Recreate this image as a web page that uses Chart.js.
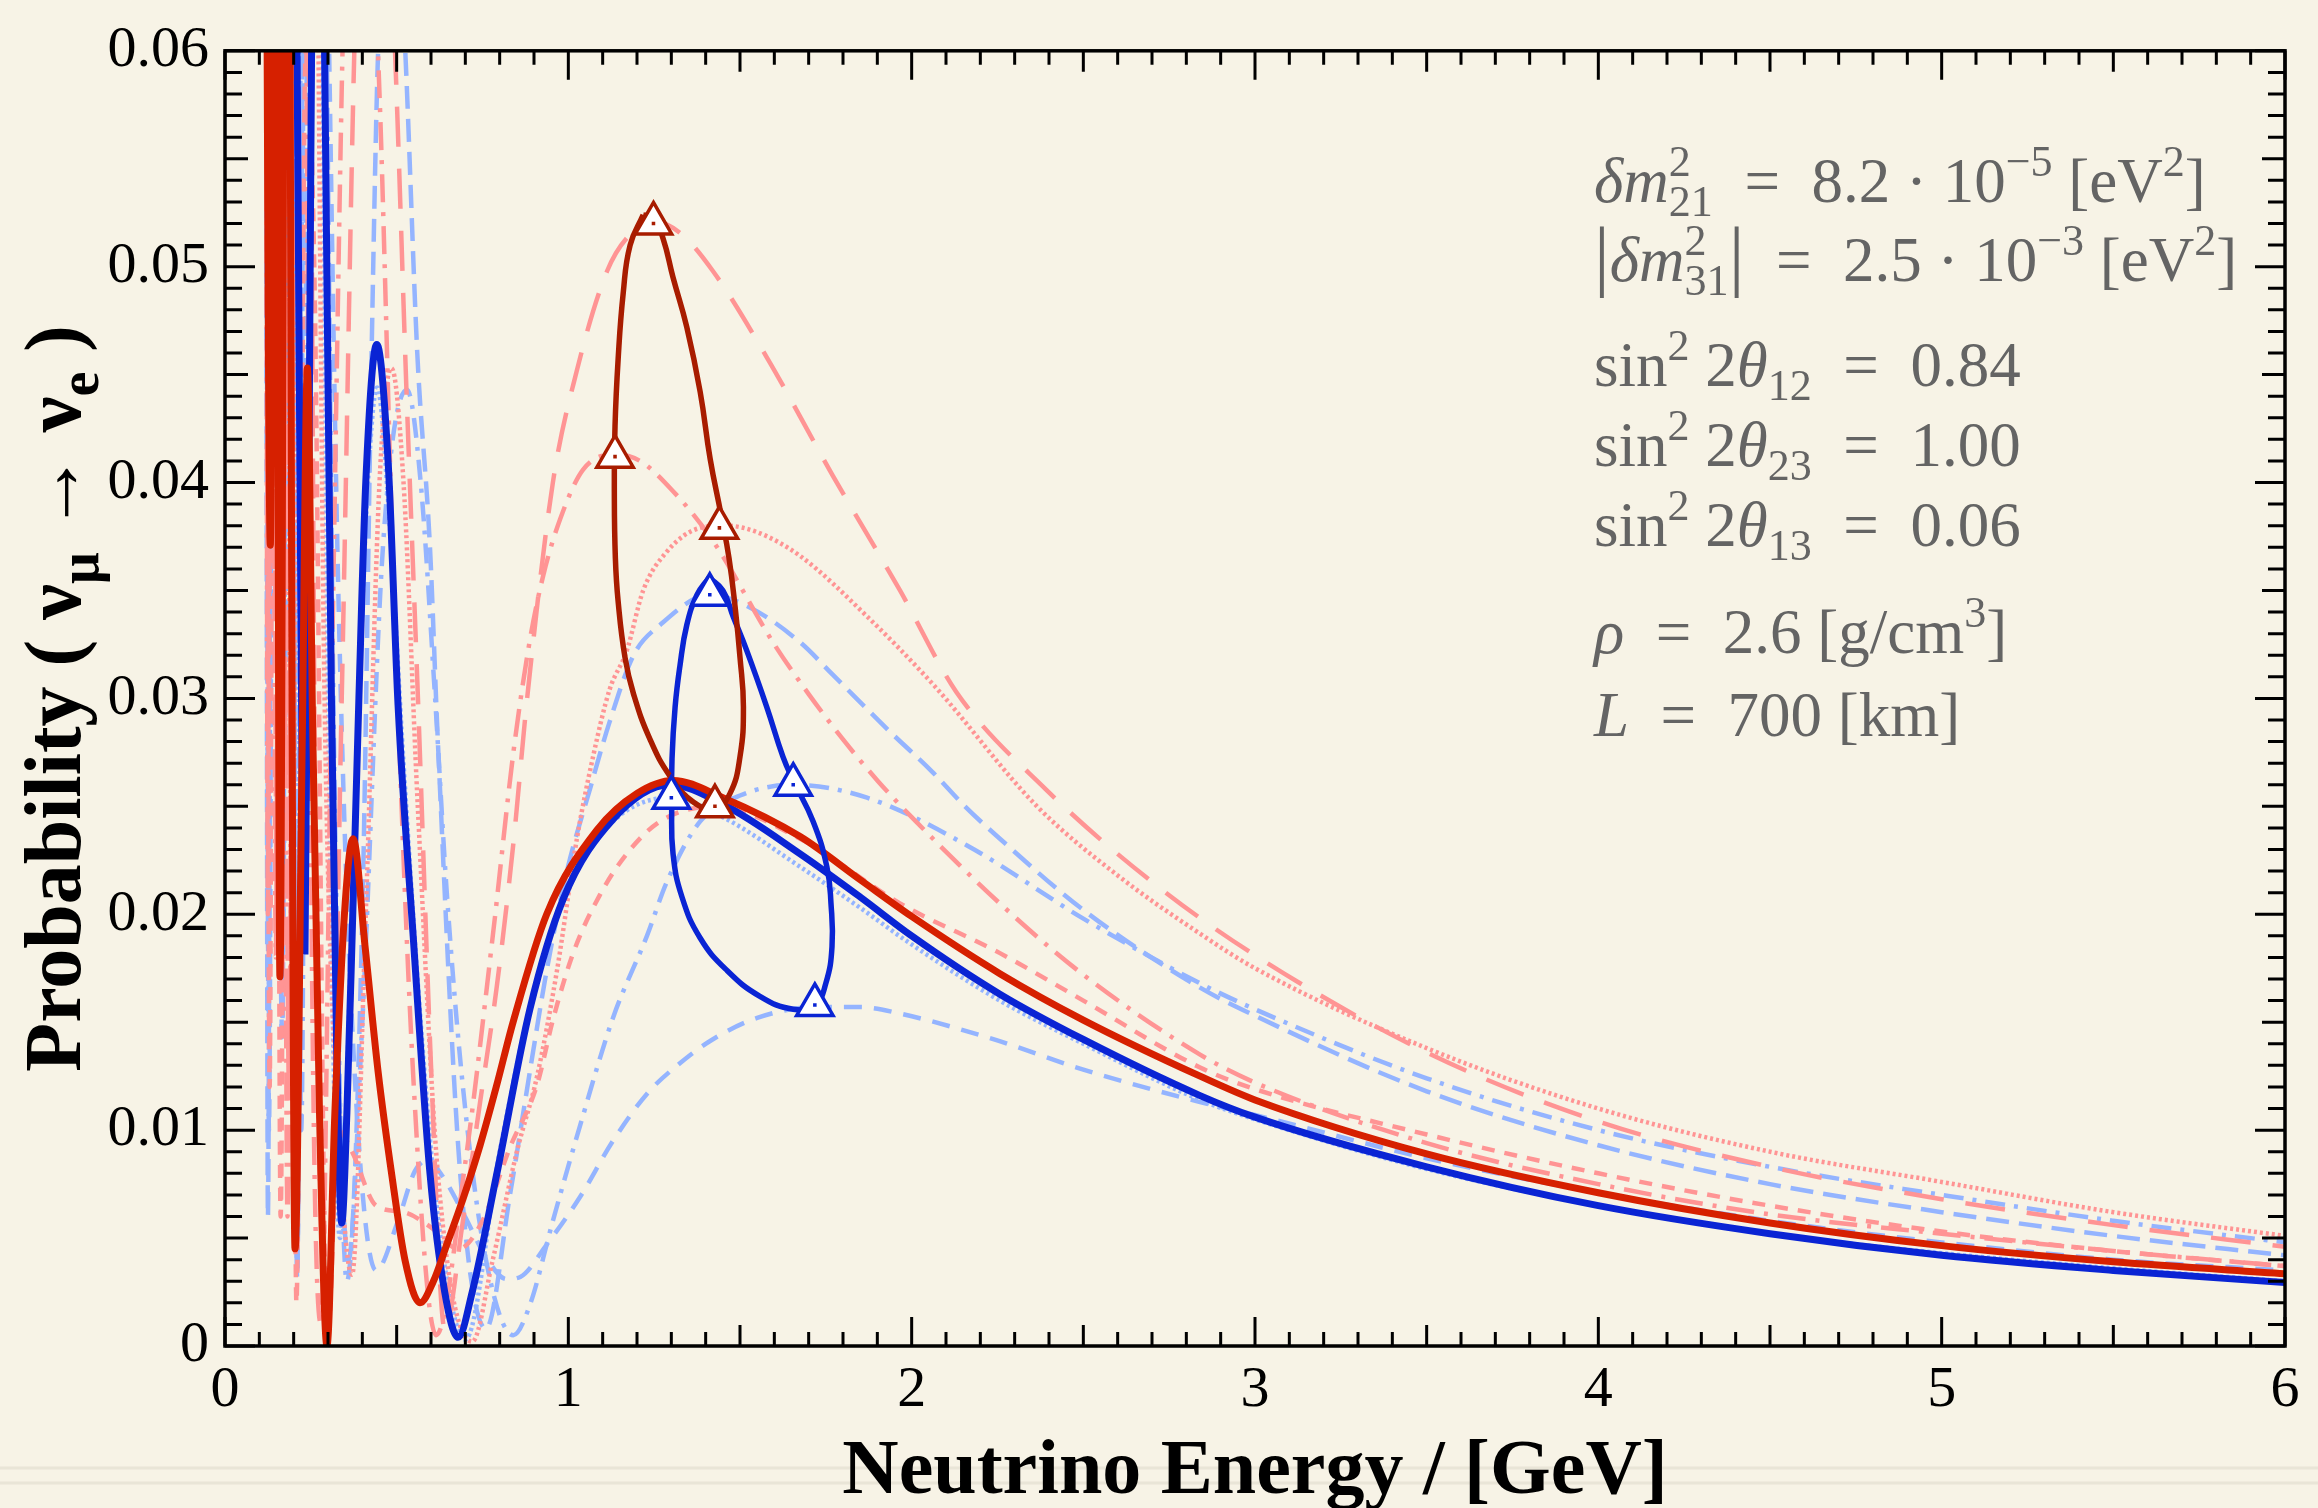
<!DOCTYPE html>
<html lang="en">
<head>
<meta charset="UTF-8">
<title>Appearance probability vs neutrino energy</title>
<script src="https://cdn.jsdelivr.net/npm/chart.js"></script>
<style>
  html, body { margin: 0; padding: 0; background: #f7f3e6; }
  canvas { display: block; }
</style>
</head>
<body>
<canvas id="probChart" width="2318" height="1508"></canvas>
<script>
// axis ticks
const energyTicks = [0, 1, 2, 3, 4, 5, 6];
const probTicks = [0, 0.01, 0.02, 0.03, 0.04, 0.05, 0.06];

// solid curves
const redSolidE = [0.115, 0.132, 0.146, 0.160, 0.180, 0.204, 0.225, 0.240, 0.255, 0.275, 0.297, 0.320, 0.350, 0.373, 0.408, 0.446, 0.486, 0.524, 0.568, 0.607, 0.646, 0.693, 0.743, 0.790, 0.839, 0.937, 1.083, 1.200, 1.305, 1.450, 1.675, 1.850, 2.000, 2.257, 2.500, 2.840, 3.000, 3.500, 4.000, 4.500, 5.000, 5.500, 6.000];
const redSolidP = [0.090, 0.0371, 0.090, 0.0171, 0.090, 0.0045, 0.028, 0.0453, 0.029, 0.011, 0.0000, 0.0108, 0.0205, 0.0235, 0.0185, 0.0127, 0.0079, 0.0040, 0.0020, 0.0030, 0.0047, 0.0068, 0.0093, 0.0120, 0.0150, 0.0200, 0.0239, 0.0256, 0.0262, 0.0254, 0.0236, 0.0216, 0.0199, 0.01725, 0.0151, 0.0125, 0.0114, 0.0089, 0.0071, 0.0057, 0.00465, 0.0039, 0.00335];

const blueSolidE = [0.198, 0.212, 0.233, 0.250, 0.268, 0.290, 0.310, 0.325, 0.340, 0.355, 0.373, 0.390, 0.410, 0.442, 0.476, 0.504, 0.548, 0.597, 0.640, 0.679, 0.720, 0.792, 0.888, 0.985, 1.130, 1.296, 1.450, 1.675, 1.850, 2.000, 2.257, 2.500, 2.840, 3.000, 3.500, 4.000, 4.500, 5.000, 5.500, 6.000];
const blueSolidP = [0.090, 0.055, 0.0183, 0.055, 0.090, 0.060, 0.030, 0.014, 0.0057, 0.0108, 0.0205, 0.030, 0.040, 0.0464, 0.0407, 0.0297, 0.019, 0.008, 0.0025, 0.0004, 0.0025, 0.0080, 0.0156, 0.0207, 0.0244, 0.0260, 0.0251, 0.0228, 0.0208, 0.0190, 0.0163, 0.0142, 0.0116, 0.0106, 0.0083, 0.0065, 0.0052, 0.0042, 0.0035, 0.00294];

// closed loops through the first maxima
const redLoopE = [1.218, 1.180, 1.160, 1.145, 1.136, 1.134, 1.137, 1.145, 1.165, 1.190, 1.238, 1.296, 1.364, 1.427, 1.471, 1.500, 1.510, 1.500, 1.486, 1.468, 1.445, 1.413, 1.384, 1.345, 1.305, 1.276, 1.247, 1.218];
const redLoopP = [0.0524, 0.0510, 0.0488, 0.0457, 0.0426, 0.0395, 0.0365, 0.0345, 0.0319, 0.0302, 0.0281, 0.0264, 0.0252, 0.0249, 0.0256, 0.0273, 0.0296, 0.0319, 0.0342, 0.0365, 0.0385, 0.0411, 0.0442, 0.0472, 0.0495, 0.0513, 0.0523, 0.0524];
const blueLoopE = [1.410, 1.375, 1.345, 1.325, 1.311, 1.302, 1.301, 1.305, 1.331, 1.384, 1.462, 1.558, 1.655, 1.718, 1.750, 1.768, 1.765, 1.753, 1.713, 1.655, 1.625, 1.578, 1.520, 1.480, 1.450, 1.410];
const blueLoopP = [0.0356, 0.0348, 0.0334, 0.0315, 0.0296, 0.0272, 0.0250, 0.0228, 0.0208, 0.0189, 0.0174, 0.0162, 0.0156, 0.0158, 0.0168, 0.0185, 0.0205, 0.0222, 0.0243, 0.0262, 0.0273, 0.0296, 0.0322, 0.0338, 0.0350, 0.0356];

// triangle markers
const redMarkE = [1.248, 1.136, 1.440, 1.427];
const redMarkP = [0.0520, 0.0412, 0.0379, 0.0250];
const blueMarkE = [1.412, 1.655, 1.718, 1.300];
const blueMarkP = [0.0348, 0.0260, 0.0158, 0.0254];

// light curves
const redLongDashE = [0.118, 0.127, 0.137, 0.150, 0.166, 0.186, 0.210, 0.235, 0.265, 0.300, 0.340, 0.380, 0.430, 0.490, 0.530, 0.562, 0.600, 0.640, 0.693, 0.743, 0.792, 0.840, 0.880, 0.955, 1.025, 1.113, 1.180, 1.250, 1.330, 1.421, 1.578, 1.771, 1.966, 2.130, 2.390, 2.700, 3.000, 3.500, 4.000, 4.500, 5.000, 5.500, 6.000];
const redLongDashP = [0.090, 0.028, 0.090, 0.022, 0.090, 0.012, 0.090, 0.090, 0.020, 0.001, 0.030, 0.062, 0.078, 0.062, 0.0436, 0.030, 0.013, 0.0008, 0.0058, 0.0113, 0.0167, 0.0233, 0.0300, 0.0400, 0.0452, 0.0498, 0.0515, 0.0521, 0.0515, 0.0498, 0.0458, 0.0403, 0.0350, 0.0303, 0.0258, 0.0215, 0.0181, 0.0136, 0.0104, 0.0083, 0.0068, 0.0056, 0.0046];

const redDashDotE = [0.118, 0.125, 0.135, 0.148, 0.163, 0.182, 0.205, 0.228, 0.255, 0.280, 0.310, 0.350, 0.400, 0.450, 0.490, 0.550, 0.615, 0.700, 0.780, 0.840, 0.888, 0.927, 0.976, 1.043, 1.140, 1.209, 1.305, 1.421, 1.600, 1.700, 1.800, 1.900, 2.000, 2.257, 2.500, 2.840, 3.000, 3.500, 4.000, 4.500, 5.000, 5.500, 6.000];
const redDashDotP = [0.090, 0.020, 0.090, 0.018, 0.090, 0.006, 0.090, 0.080, 0.015, 0.001, 0.030, 0.065, 0.075, 0.058, 0.036, 0.012, 0.0005, 0.0085, 0.019, 0.0275, 0.0327, 0.0357, 0.0383, 0.0406, 0.0413, 0.0410, 0.0396, 0.0373, 0.0325, 0.0302, 0.0281, 0.0262, 0.0245, 0.0205, 0.0172, 0.0135, 0.0122, 0.0094, 0.0075, 0.0061, 0.0052, 0.0044, 0.0037];

const redDotE = [0.118, 0.128, 0.140, 0.155, 0.172, 0.195, 0.220, 0.250, 0.290, 0.335, 0.370, 0.410, 0.450, 0.485, 0.520, 0.560, 0.620, 0.720, 0.780, 0.850, 0.909, 0.967, 1.025, 1.072, 1.120, 1.170, 1.218, 1.287, 1.384, 1.460, 1.550, 1.675, 1.870, 2.065, 2.365, 2.600, 2.840, 3.000, 3.500, 4.000, 4.500, 5.000, 5.500, 6.000];
const redDotP = [0.090, 0.035, 0.090, 0.028, 0.090, 0.015, 0.090, 0.090, 0.030, 0.009, 0.0033, 0.020, 0.040, 0.0453, 0.040, 0.0255, 0.008, 0.0002, 0.004, 0.009, 0.0125, 0.0174, 0.0235, 0.0273, 0.0304, 0.0322, 0.0350, 0.0368, 0.0379, 0.0380, 0.0377, 0.0366, 0.0338, 0.0306, 0.0250, 0.0218, 0.0191, 0.0175, 0.0138, 0.0110, 0.0090, 0.0076, 0.0062, 0.0051];

const redShortDashE = [0.118, 0.130, 0.145, 0.162, 0.185, 0.208, 0.235, 0.260, 0.298, 0.330, 0.370, 0.440, 0.520, 0.600, 0.680, 0.750, 0.830, 0.909, 0.955, 1.014, 1.092, 1.170, 1.267, 1.427, 1.675, 1.966, 2.257, 2.500, 2.840, 3.000, 3.500, 4.000, 4.500, 5.000, 5.500, 6.000];
const redShortDashP = [0.090, 0.012, 0.090, 0.006, 0.090, 0.002, 0.060, 0.050, 0.000, 0.010, 0.009, 0.0065, 0.0062, 0.0055, 0.0045, 0.0058, 0.0092, 0.0121, 0.0151, 0.0182, 0.0209, 0.0228, 0.0243, 0.0250, 0.0235, 0.0205, 0.0182, 0.0160, 0.0129, 0.0119, 0.0098, 0.0080, 0.0065, 0.0053, 0.0044, 0.0037];

const blueDashE = [0.118, 0.125, 0.140, 0.166, 0.190, 0.210, 0.235, 0.270, 0.310, 0.360, 0.400, 0.427, 0.446, 0.490, 0.525, 0.560, 0.597, 0.620, 0.685, 0.760, 0.830, 0.897, 0.937, 0.996, 1.063, 1.120, 1.190, 1.267, 1.413, 1.530, 1.675, 1.770, 1.934, 2.060, 2.155, 2.257, 2.500, 2.840, 3.000, 3.500, 4.000, 4.500, 5.000, 5.500, 6.000];
const blueDashP = [0.090, 0.006, 0.090, 0.0143, 0.090, 0.0032, 0.090, 0.090, 0.030, 0.004, 0.020, 0.046, 0.060, 0.070, 0.060, 0.046, 0.037, 0.028, 0.008, 0.0008, 0.007, 0.0136, 0.0174, 0.0220, 0.0258, 0.0289, 0.0320, 0.0334, 0.0348, 0.0342, 0.0326, 0.0311, 0.0285, 0.0266, 0.0250, 0.0235, 0.0202, 0.0166, 0.0153, 0.0118, 0.0093, 0.0075, 0.0062, 0.0051, 0.0042];

const blueDashDotE = [0.118, 0.127, 0.142, 0.170, 0.198, 0.222, 0.250, 0.285, 0.320, 0.355, 0.400, 0.460, 0.530, 0.570, 0.612, 0.646, 0.693, 0.760, 0.840, 0.888, 0.955, 1.034, 1.130, 1.229, 1.287, 1.384, 1.500, 1.655, 1.870, 2.160, 2.500, 2.840, 3.000, 3.500, 4.000, 4.500, 5.000, 5.500, 6.000];
const blueDashDotP = [0.090, 0.016, 0.090, 0.022, 0.090, 0.010, 0.090, 0.075, 0.025, 0.003, 0.015, 0.037, 0.0443, 0.040, 0.030, 0.021, 0.012, 0.004, 0.0005, 0.0019, 0.0058, 0.0102, 0.0152, 0.0190, 0.0215, 0.0243, 0.0255, 0.0260, 0.0254, 0.0232, 0.0198, 0.0168, 0.0156, 0.0124, 0.0100, 0.0083, 0.0070, 0.0058, 0.0048];

const blueShortDashE = [0.118, 0.128, 0.145, 0.166, 0.190, 0.210, 0.240, 0.280, 0.330, 0.370, 0.440, 0.504, 0.553, 0.590, 0.632, 0.699, 0.757, 0.820, 0.860, 0.937, 1.034, 1.130, 1.230, 1.325, 1.420, 1.550, 1.720, 1.850, 1.966, 2.240, 2.500, 2.840, 3.000, 3.500, 4.000, 4.500, 5.000, 5.500, 6.000];
const blueShortDashP = [0.090, 0.010, 0.090, 0.0145, 0.090, 0.0035, 0.090, 0.080, 0.035, 0.015, 0.0035, 0.0058, 0.0081, 0.0086, 0.0079, 0.0060, 0.0042, 0.0031, 0.0032, 0.0047, 0.0069, 0.0095, 0.0117, 0.0131, 0.0142, 0.0152, 0.0157, 0.0157, 0.0154, 0.0142, 0.0128, 0.0113, 0.0107, 0.0087, 0.0071, 0.0058, 0.0048, 0.0040, 0.0035];

const blueDotE = [0.118, 0.127, 0.140, 0.158, 0.180, 0.205, 0.230, 0.265, 0.300, 0.335, 0.370, 0.410, 0.443, 0.480, 0.520, 0.570, 0.620, 0.700, 0.800, 0.900, 1.000, 1.130, 1.300, 1.450, 1.675, 1.850, 2.000, 2.257, 2.500, 2.840, 3.000, 3.500, 4.000, 4.500, 5.000, 5.500, 6.000];
const blueDotP = [0.090, 0.020, 0.090, 0.020, 0.090, 0.008, 0.090, 0.090, 0.030, 0.005, 0.020, 0.038, 0.0444, 0.038, 0.027, 0.015, 0.006, 0.0003, 0.009, 0.0165, 0.0212, 0.0243, 0.0254, 0.0245, 0.0222, 0.0203, 0.0186, 0.0160, 0.0140, 0.0114, 0.0105, 0.0082, 0.0065, 0.0052, 0.0043, 0.0036, 0.0030];

const BG = '#f7f3e6';
const PINK = '#ff9494';
const SKY = '#94b4ff';
const RED = '#d62000';
const BLUE = '#0a24d4';
const DARKRED = '#a81c00';
const SERIF = '"Liberation Serif", "Times New Roman", serif';

function pts(E, P) {
    return E.map((e, i) => ({ x: e, y: P[i] }));
}

function curve(E, P, color, width, dash, order) {
    return {
        data: pts(E, P), showLine: true, pointRadius: 0, borderColor: color,
        borderWidth: width, borderDash: dash, cubicInterpolationMode: 'monotone',
        order: order, clip: 0
    };
}

function loop(E, P, color, order) {
    return {
        data: pts(E, P), showLine: true, pointRadius: 0, borderColor: color,
        borderWidth: 5.5, tension: 0.45, order: order, clip: 0
    };
}

function markers(E, P, color, order) {
    return {
        data: pts(E, P), showLine: false, pointStyle: 'triangle', pointRadius: 21,
        pointBackgroundColor: '#ffffff', pointBorderColor: color, pointBorderWidth: 3.5, order: order
    };
}

function dots(E, P, color, order) {
    return {
        data: pts(E, P), showLine: false, pointStyle: 'rect', pointRadius: 2.5,
        pointBackgroundColor: color, pointBorderWidth: 0, order: order
    };
}

// draws text runs with sub/superscripts, returns width
function drawRuns(ctx, x, y, runs, size, weight, dry) {
    let cx = x;
    const w = weight ? weight + ' ' : '';
    runs.forEach(r => {
        const t = r[0], o = r[1] || {};
        const small = o.sup || o.sub || o.hi !== undefined;
        const fs = small ? size * 0.7 : size * (o.scale || 1);
        ctx.font = (o.it ? 'italic ' : '') + w + fs + 'px ' + SERIF;
        if (o.hi !== undefined) {
            const w1 = ctx.measureText(o.hi).width, w2 = ctx.measureText(o.lo).width;
            if (!dry) {
                ctx.fillText(o.hi, cx, y - size * 0.42);
                ctx.fillText(o.lo, cx, y + size * 0.22);
            }
            cx += Math.max(w1, w2);
            return;
        }
        const dy = o.sup ? -size * 0.42 : (o.sub ? size * 0.22 : 0);
        if (!dry) ctx.fillText(t, cx, y + dy);
        cx += ctx.measureText(t).width;
    });
    return cx - x;
}

const EQ = '\u2002=\u2002';
const infoLines = [
    { y: 202, runs: [['δ', {it: true}], ['m', {it: true}], ['', {hi: '2', lo: '21'}], [EQ + '8.2 · 10'], ['−5', {sup: true}], [' [eV'], ['2', {sup: true}], [']']] },
    { y: 281, runs: [['|', {scale: 1.25}], ['δ', {it: true}], ['m', {it: true}], ['', {hi: '2', lo: '31'}], ['|', {scale: 1.25}], [EQ + '2.5 · 10'], ['−3', {sup: true}], [' [eV'], ['2', {sup: true}], [']']] },
    { y: 386, runs: [['sin'], ['2', {sup: true}], [' 2'], ['θ', {it: true}], ['12', {sub: true}], [EQ + '0.84']] },
    { y: 466, runs: [['sin'], ['2', {sup: true}], [' 2'], ['θ', {it: true}], ['23', {sub: true}], [EQ + '1.00']] },
    { y: 546, runs: [['sin'], ['2', {sup: true}], [' 2'], ['θ', {it: true}], ['13', {sub: true}], [EQ + '0.06']] },
    { y: 653, runs: [['ρ', {it: true}], [EQ + '2.6 [g/cm'], ['3', {sup: true}], [']']] },
    { y: 736, runs: [['L', {it: true}], [EQ + '700 [km]']] }
];

const yTitleRuns = [['Probability ( ν'], ['μ', {sub: true}], [' → ν'], ['e', {sub: true}], [' )']];

const decor = {
    id: 'decor',
    beforeDraw(chart) {
        const ctx = chart.ctx;
        ctx.save();
        ctx.fillStyle = BG;
        ctx.fillRect(0, 0, chart.width, chart.height);
        ctx.strokeStyle = 'rgba(120,110,90,0.10)';
        ctx.lineWidth = 3;
        [1468, 1483].forEach(yy => {
            ctx.beginPath(); ctx.moveTo(0, yy); ctx.lineTo(chart.width, yy); ctx.stroke();
        });
        ctx.restore();
    },
    afterDatasetsDraw(chart) {
        const { ctx, chartArea: a, scales: { x, y } } = chart;
        ctx.save();
        ctx.strokeStyle = '#000';
        ctx.lineWidth = 3;
        ctx.beginPath();
        for (let i = 0; i <= 60; i++) {
            const px = x.getPixelForValue(i / 10);
            const len = i % 10 === 0 ? 29 : (i % 5 === 0 ? 21 : 14);
            ctx.moveTo(px, a.bottom); ctx.lineTo(px, a.bottom - len);
            ctx.moveTo(px, a.top); ctx.lineTo(px, a.top + len);
        }
        for (let j = 0; j <= 60; j++) {
            const py = y.getPixelForValue(j / 1000);
            const len = j % 10 === 0 ? 30 : (j % 5 === 0 ? 23 : 17);
            ctx.moveTo(a.left, py); ctx.lineTo(a.left + len, py);
            ctx.moveTo(a.right, py); ctx.lineTo(a.right - len, py);
        }
        ctx.stroke();
        ctx.lineWidth = 3.5;
        ctx.strokeRect(a.left, a.top, a.right - a.left, a.bottom - a.top);
        ctx.restore();
    },
    afterDraw(chart) {
        const { ctx, chartArea: a } = chart;
        ctx.save();
        ctx.textBaseline = 'alphabetic';
        // parameter block
        ctx.fillStyle = '#646464';
        infoLines.forEach(l => drawRuns(ctx, 1594, l.y, l.runs, 63, '', false));
        // axis titles
        ctx.fillStyle = '#000';
        ctx.textAlign = 'center';
        ctx.font = 'bold 78px ' + SERIF;
        ctx.fillText('Neutrino Energy / [GeV]', (a.left + a.right) / 2, 1493);
        ctx.textAlign = 'left';
        ctx.translate(80, (a.top + a.bottom) / 2);
        ctx.rotate(-Math.PI / 2);
        const w = drawRuns(ctx, 0, 0, yTitleRuns, 80, 'bold', true);
        drawRuns(ctx, -w / 2, 0, yTitleRuns, 80, 'bold', false);
        ctx.restore();
    }
};

const ctx = document.getElementById('probChart').getContext('2d');
new Chart(ctx, {
    type: 'scatter',
    data: {
        datasets: [
            dots(redMarkE, redMarkP, DARKRED, 1),
            dots(blueMarkE, blueMarkP, BLUE, 1),
            markers(redMarkE, redMarkP, DARKRED, 2),
            markers(blueMarkE, blueMarkP, BLUE, 2),
            loop(redLoopE, redLoopP, DARKRED, 3),
            loop(blueLoopE, blueLoopP, BLUE, 4),
            curve(redSolidE, redSolidP, RED, 7, [], 5),
            curve(blueSolidE, blueSolidP, BLUE, 7, [], 6),
            curve(redLongDashE, redLongDashP, PINK, 4.5, [40, 22], 10),
            curve(redDashDotE, redDashDotP, PINK, 4.5, [28, 10, 4, 10], 10),
            curve(redDotE, redDotP, PINK, 4.5, [3, 3], 10),
            curve(redShortDashE, redShortDashP, PINK, 4.5, [13, 10], 10),
            curve(blueDashE, blueDashP, SKY, 4.5, [23, 10], 10),
            curve(blueDashDotE, blueDashDotP, SKY, 4.5, [20, 9, 4, 9], 10),
            curve(blueShortDashE, blueShortDashP, SKY, 4.5, [18, 12], 10),
            curve(blueDotE, blueDotP, SKY, 4.5, [3, 3], 10)
        ]
    },
    options: {
        responsive: false,
        animation: false,
        devicePixelRatio: 1,
        layout: { padding: { top: 38, right: 33, left: 0, bottom: 0 } },
        elements: { line: { capBezierPoints: false } },
        plugins: { legend: { display: false }, tooltip: { enabled: false } },
        scales: {
            x: {
                type: 'linear', min: 0, max: 6,
                afterBuildTicks: s => { s.ticks = energyTicks.map(v => ({ value: v })); },
                afterFit: s => { s.height = 162; },
                grid: { display: false, drawTicks: false },
                border: { display: false },
                ticks: {
                    font: { family: SERIF, size: 58 }, color: '#000', padding: 10,
                    maxRotation: 0, autoSkip: false, callback: v => String(v)
                }
            },
            y: {
                type: 'linear', min: 0, max: 0.06,
                afterBuildTicks: s => { s.ticks = probTicks.map(v => ({ value: v })); },
                afterFit: s => { s.width = 225; },
                grid: { display: false, drawTicks: false },
                border: { display: false },
                ticks: {
                    font: { family: SERIF, size: 58 }, color: '#000', padding: 16,
                    autoSkip: false, callback: v => (v === 0 ? '0' : v.toFixed(2))
                }
            }
        }
    },
    plugins: [decor]
});
</script>
</body>
</html>
